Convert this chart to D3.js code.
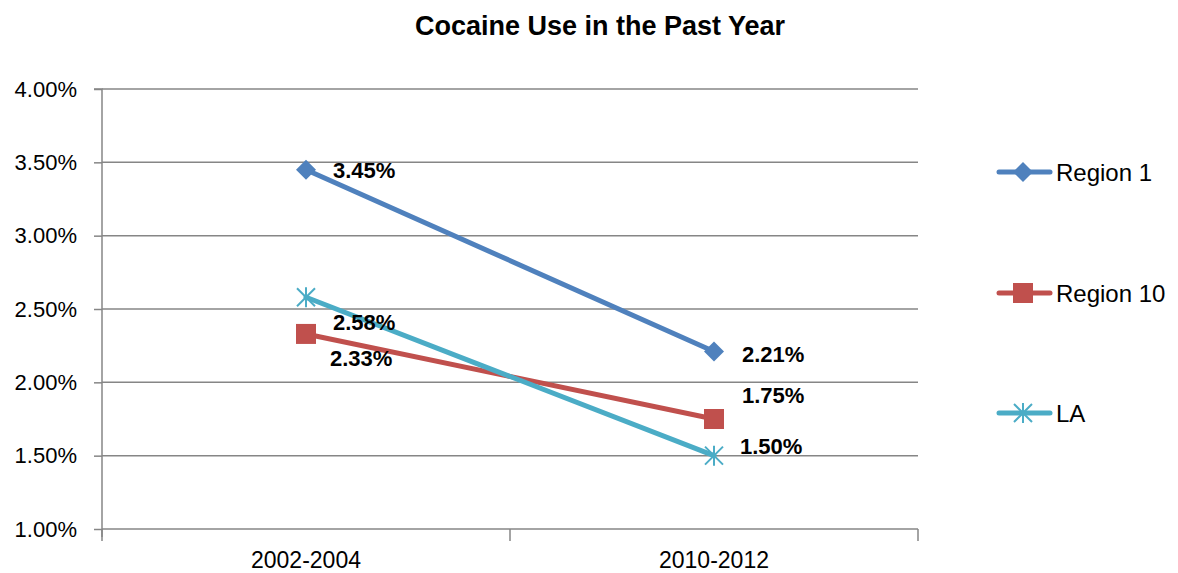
<!DOCTYPE html>
<html><head><meta charset="utf-8">
<script src="https://cdn.jsdelivr.net/npm/d3@7"></script>
<style>body{margin:0;background:#fff}</style>
</head><body>
<svg id="c" width="1178" height="573"></svg>
<script>
const categories = ["2002-2004", "2010-2012"];
const seriesNames = ["Region 1", "Region 10", "LA"];
const region1 = [0.0345, 0.0221];
const region10 = [0.0233, 0.0175];
const la = [0.0258, 0.0150];
const yTicks = [0.01, 0.015, 0.02, 0.025, 0.03, 0.035, 0.04];
const colors = ["#4F81BD", "#C0504D", "#4BACC6"];
const markers = ["diamond", "square", "star"];
// label offsets [dx, dy] per series per point
const labelOffsets = [[[27, 8], [28, 10]], [[24, 32], [28, -16]], [[27, 33], [26, -2]]];

const svg = d3.select("#c");
const L = 102, R = 918, T = 89, B = 529;
const x = d3.scaleBand().domain(categories).range([L, R]);
const y = d3.scaleLinear().domain([0.01, 0.04]).range([B, T]);
const font = "'Liberation Sans', Arial, sans-serif";

svg.append("text").attr("x", 600).attr("y", 35).attr("text-anchor", "middle")
  .attr("font-family", font).attr("font-weight", "bold").attr("font-size", 27).text("Cocaine Use in the Past Year");

// gridlines
svg.append("g").selectAll("line").data(yTicks.slice(1)).join("line")
  .attr("x1", L).attr("x2", R).attr("y1", d => y(d)).attr("y2", d => y(d))
  .attr("stroke", "#868686").attr("stroke-width", 1.5);

// y axis
const yAxis = d3.axisLeft(y).tickValues(yTicks).tickFormat(d3.format(".2%")).tickSize(8).tickPadding(17);
const ga = svg.append("g").attr("transform", `translate(${L},0)`).call(yAxis);
ga.select(".domain").attr("stroke", "#868686").attr("stroke-width", 1.5).attr("d", `M-8,${T}H0V${B + 8}`);
ga.selectAll(".tick line").attr("stroke", "#868686").attr("stroke-width", 1.5);
ga.selectAll(".tick text").attr("font-family", font).attr("font-size", 22).attr("fill", "#000");

// x axis
const xAxis = d3.axisBottom(x).tickSize(0).tickPadding(23);
const gx = svg.append("g").attr("transform", `translate(0,${B})`).call(xAxis);
gx.select(".domain").attr("stroke", "#868686").attr("stroke-width", 1.5).attr("d", `M${L},0H${R}`);
gx.selectAll(".tick text").attr("font-family", font).attr("font-size", 23).attr("fill", "#000");
// category boundary ticks
const bounds = [L, L + x.bandwidth(), R];
svg.append("g").selectAll("line").data(bounds).join("line")
  .attr("x1", d => d).attr("x2", d => d).attr("y1", B).attr("y2", B + 12)
  .attr("stroke", "#868686").attr("stroke-width", 1.5);

function drawMarker(g, type, cx, cy, color) {
  if (type === "diamond") {
    g.append("path").attr("d", `M${cx},${cy - 10}L${cx + 10},${cy}L${cx},${cy + 10}L${cx - 10},${cy}Z`).attr("fill", color);
  } else if (type === "square") {
    g.append("rect").attr("x", cx - 10).attr("y", cy - 10).attr("width", 20).attr("height", 20).attr("fill", color);
  } else {
    const r = 9;
    const d = `M${cx - r},${cy - r}L${cx + r},${cy + r}M${cx - r},${cy + r}L${cx + r},${cy - r}M${cx},${cy - r - 1}L${cx},${cy + r + 1}`;
    g.append("path").attr("d", d).attr("stroke", color).attr("stroke-width", 2).attr("fill", "none");
  }
}

const allSeries = [region1, region10, la];
const cx = c => x(c) + x.bandwidth() / 2;
const line = d3.line().x((d, i) => cx(categories[i])).y(d => y(d));
allSeries.forEach((vals, s) => {
  const g = svg.append("g");
  g.append("path").attr("d", line(vals)).attr("stroke", colors[s]).attr("stroke-width", 5)
    .attr("fill", "none").attr("stroke-linecap", "round");
  vals.forEach((v, i) => drawMarker(g, markers[s], cx(categories[i]), y(v), colors[s]));
});
// labels on top
allSeries.forEach((vals, s) => {
  vals.forEach((v, i) => {
    const [dx, dy] = labelOffsets[s][i];
    svg.append("text").attr("x", cx(categories[i]) + dx).attr("y", y(v) + dy)
      .attr("font-family", font).attr("font-weight", "bold").attr("font-size", 22).attr("fill", "#000")
      .text(d3.format(".2%")(v));
  });
});

// legend
const legY = [172, 293, 413];
seriesNames.forEach((n, s) => {
  const g = svg.append("g");
  g.append("line").attr("x1", 999).attr("x2", 1050).attr("y1", legY[s]).attr("y2", legY[s])
    .attr("stroke", colors[s]).attr("stroke-width", 5).attr("stroke-linecap", "round");
  drawMarker(g, markers[s], 1023, legY[s], colors[s]);
  g.append("text").attr("x", 1056).attr("y", legY[s] + 9).attr("font-family", font).attr("font-size", 24).text(n);
});
</script>
</body></html>
